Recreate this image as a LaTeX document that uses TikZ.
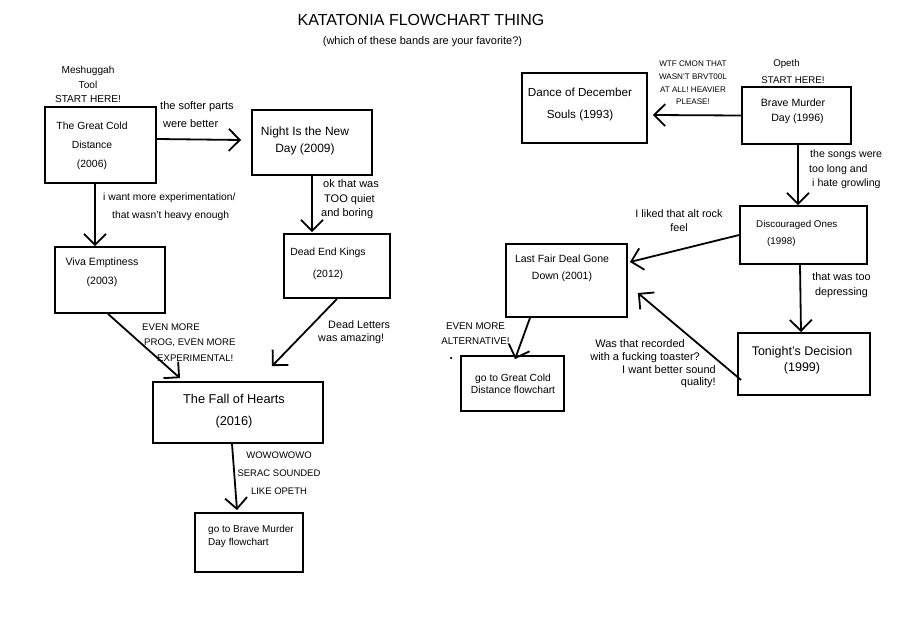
\documentclass[tikz,border=0pt]{standalone}
\usepackage{fontspec}
\setmainfont{Liberation Sans}
\usetikzlibrary{arrows.meta}
\newcommand{\myfs}[2]{\fontsize{#1}{#2}\selectfont}
\begin{document}
\begin{tikzpicture}[x=1pt,y=-1pt,
  box/.style={draw, line width=1.8pt, inner sep=0pt},
  txt/.style={inner sep=0pt, align=center, text=black},
  ltxt/.style={inner sep=0pt, align=left, anchor=west, text=black},
  rtxt/.style={inner sep=0pt, align=right, anchor=east, text=black},
  arr/.style={line width=1.8pt, -{Straight Barb[length=11pt,width=22pt]}}]
\useasboundingbox[fill=white] (0,0) rectangle (910,640);

% title
\node[txt, font={\myfs{16}{19}}] (title) at (421,20) {KATATONIA FLOWCHART THING};
\node[txt, font={\myfs{11}{13}}] (subtitle) at (422.5,42) {(which of these bands are your favorite?)};

% boxes
\node[box, minimum width=111pt, minimum height=76pt] (gcd) at (100.5,145) {};
\node[box, minimum width=120pt, minimum height=65pt] (night) at (312,142.5) {};
\node[box, minimum width=106pt, minimum height=64pt] (dek) at (337,266) {};
\node[box, minimum width=110pt, minimum height=66pt] (viva) at (110,280) {};
\node[box, minimum width=170pt, minimum height=61pt] (fall) at (238,412.5) {};
\node[box, minimum width=108pt, minimum height=59pt] (gbmd) at (249,542.5) {};
\node[box, minimum width=125pt, minimum height=70pt] (dds) at (584.5,108) {};
\node[box, minimum width=109pt, minimum height=57pt] (bmd) at (796.5,115.5) {};
\node[box, minimum width=127pt, minimum height=58pt] (disc) at (803.5,235) {};
\node[box, minimum width=121pt, minimum height=73pt] (lfdg) at (566.5,280.5) {};
\node[box, minimum width=132pt, minimum height=62pt] (tonight) at (804,364) {};
\node[box, minimum width=103pt, minimum height=55pt] (ggcd) at (512.5,383.5) {};

% box texts
\node[txt, font={\myfs{10.4}{19}}] (gcdT) at (92,146) {The Great Cold\\Distance\\(2006)};
\node[txt, font={\myfs{12}{17}}] (nightT) at (305,140.5) {Night Is the New\\Day (2009)};
\node[txt, font={\myfs{10.4}{22}}] (dekT) at (328,264) {Dead End Kings\\(2012)};
\node[txt, font={\myfs{10.6}{19}}] (vivaT) at (102,272.5) {Viva Emptiness\\(2003)};
\node[txt, font={\myfs{12.8}{22}}] (fallT) at (234,411) {The Fall of Hearts\\(2016)};
\node[ltxt, font={\myfs{10}{13}}] (gbmdT) at (208,536.5) {go to Brave Murder\\Day flowchart};
\node[txt, font={\myfs{11.7}{22}}] (ddsT) at (580,104) {Dance of December\\Souls (1993)};
\node[txt, font={\myfs{10.6}{15}}] (bmdT) at (793,111.5) {Brave Murder\\\hspace*{9pt}Day (1996)};
\node[ltxt, font={\myfs{9.8}{17}}] (discT) at (756,233.5) {Discouraged Ones\\\hspace*{11pt}(1998)};
\node[txt, font={\myfs{10.5}{17}}] (lfdgT) at (562,268.5) {Last Fair Deal Gone\\Down (2001)};
\node[txt, font={\myfs{12.5}{16}}] (tonightT) at (802,360) {Tonight's Decision\\(1999)};
\node[txt, font={\myfs{10.3}{12}}] (ggcdT) at (513,384) {go to Great Cold\\Distance flowchart};

% start labels
\node[txt, font={\myfs{10.1}{14.5}}] (startL) at (88,84.5) {Meshuggah\\Tool\\START HERE!};
\node[txt, font={\myfs{9.7}{17}}] (startR) at (793,71.5) {Opeth\rule{13pt}{0pt}\\START HERE!};

% arrows
\draw[arr] ([yshift=6pt]gcd.east) -- ([xshift=-10pt,yshift=2.5pt]night.west);
\draw[arr] ([xshift=-5.5pt]gcd.south) -- ([xshift=-15pt]viva.north);
\draw[arr] (night.south) -- ([xshift=-25pt,yshift=1pt]dek.north);
\draw[arr] ([xshift=-2pt]viva.south) -- ([xshift=-58pt,yshift=3pt]fall.north);
\draw[arr] (dek.south) -- ([xshift=34pt,yshift=15pt]fall.north);
\draw[arr] ([xshift=-6pt]fall.south) -- ([xshift=-12pt,yshift=2pt]gbmd.north);
\draw[arr] (bmd.west) -- ([xshift=5pt,yshift=-7pt]dds.east);
\draw[arr] ([xshift=1.5pt]bmd.south) -- ([xshift=-5.5pt]disc.north);
\draw[arr] (disc.west) -- ([xshift=2pt,yshift=18.5pt]lfdg.east);
\draw[arr] ([xshift=-3.5pt]disc.south) -- ([xshift=-3pt]tonight.north);
\draw[arr] ([xshift=4pt,yshift=-16pt]tonight.west) -- ([xshift=10pt,yshift=-12.5pt]lfdg.east);
\draw[arr] ([xshift=-36.5pt]lfdg.south) -- ([xshift=2.5pt,yshift=-4pt]ggcd.north);

% arrow labels
\node[ltxt, font={\myfs{11}{18}}] (l1) at (160,115) {the softer parts\\\hspace*{3pt}were better};
\node[ltxt, font={\myfs{10.3}{18}}] (l2) at (103,207) {i want more experimentation/\\\hspace*{9pt}that wasn't heavy enough};
\node[ltxt, font={\myfs{11}{14.5}}] (l3) at (321,199.5) {\hspace*{2pt}ok that was\\\hspace*{3pt}TOO quiet\\and boring};
\node[ltxt, font={\myfs{9.6}{15.5}}] (l4) at (142,342.5) {EVEN MORE\\\hspace*{2pt}PROG, EVEN MORE\\\hspace*{15pt}EXPERIMENTAL!};
\node[ltxt, font={\myfs{10.8}{13}}] (l5) at (318,332.5) {\hspace*{10pt}Dead Letters\\was amazing!};
\node[txt, font={\myfs{9.5}{18}}] (l6) at (279,473) {WOWOWOWO\\SERAC SOUNDED\\LIKE OPETH};
\node[txt, font={\myfs{8.1}{12.7}}] (l7) at (693,83) {WTF CMON THAT\\WASN'T BRVT00L\\AT ALL! HEAVIER\\PLEASE!};
\node[ltxt, font={\myfs{10.6}{14.5}}] (l8) at (809,169.5) {\hspace*{1pt}the songs were\\too long and\\\hspace*{3pt}i hate growling};
\node[txt, font={\myfs{10.8}{14}}] (l9) at (679,221) {I liked that alt rock\\feel};
\node[txt, font={\myfs{10.8}{15}}] (l10) at (841.5,285.5) {that was too\\depressing};
\node[rtxt, font={\myfs{11}{12.7}}] (l11) at (716,364) {Was that recorded\rule{31pt}{0pt}\\with a fucking toaster?\rule{16pt}{0pt}\\I want better sound\\quality!};
\node[txt, font={\myfs{9.8}{15}}] (l12) at (475.5,333.5) {EVEN MORE\\ALTERNATIVE!};

% stray dot
\node[circle, fill=black, inner sep=0pt, minimum size=2.5pt] (dot) at (451,358) {};
\end{tikzpicture}
\end{document}
